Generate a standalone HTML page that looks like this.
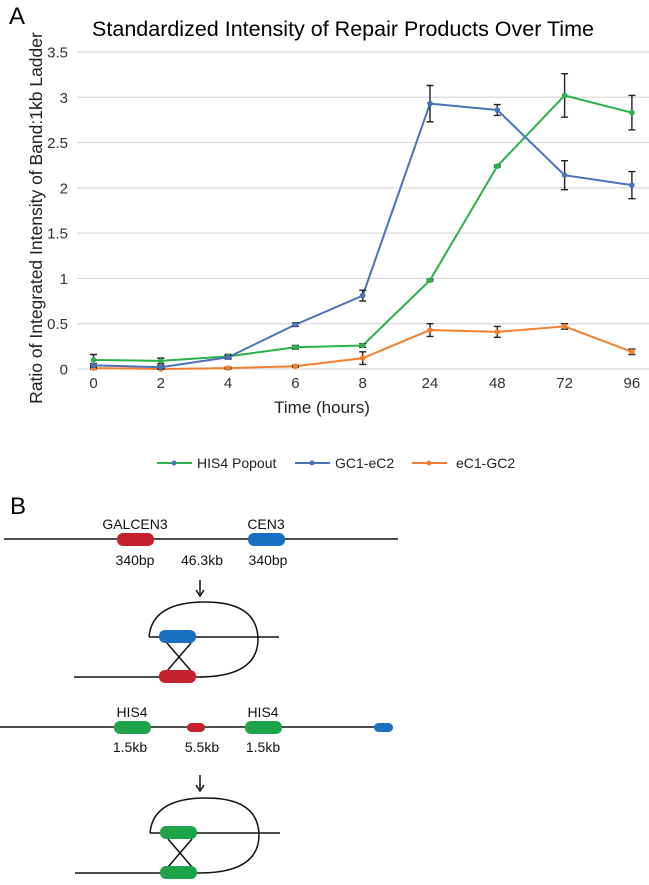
<!DOCTYPE html>
<html><head><meta charset="utf-8"><style>
body{margin:0;background:#fff;}
svg text{font-family:"Liberation Sans",Arial,sans-serif;}
</style></head><body>
<svg width="649" height="880" viewBox="0 0 649 880" xmlns="http://www.w3.org/2000/svg">
<text x="9" y="24" font-size="24" fill="#000">A</text>
<text x="343" y="36" font-size="21.5" text-anchor="middle" fill="#000">Standardized Intensity of Repair Products Over Time</text>
<g id="grid"></g>
<g id="yticks"></g>
<g id="xticks"></g>
<g id="series"></g>
<text transform="translate(42,218) rotate(-90)" font-size="17.5" text-anchor="middle" fill="#222">Ratio of Integrated Intensity of Band:1kb Ladder</text>
<text x="322" y="413" font-size="17" text-anchor="middle" fill="#222">Time (hours)</text>
<g>
 <g><line x1="157" y1="463" x2="192" y2="463" stroke="#2bb04a" stroke-width="2"/><circle cx="174" cy="463" r="2.5" fill="#4a72b8"/><text x="197" y="468" font-size="14" fill="#222">HIS4 Popout</text></g>
 <g><line x1="295" y1="463" x2="330" y2="463" stroke="#4a72b8" stroke-width="2"/><circle cx="312" cy="463" r="2.5" fill="#4a72b8"/><text x="335" y="468" font-size="14" fill="#222">GC1-eC2</text></g>
 <g><line x1="412" y1="463" x2="447" y2="463" stroke="#f08030" stroke-width="2"/><circle cx="429" cy="463" r="2.5" fill="#f08030"/><text x="456" y="468" font-size="14" fill="#222">eC1-GC2</text></g>
</g>

<text x="10" y="514" font-size="24" fill="#000">B</text>
<g font-size="14" text-anchor="middle" fill="#111">
 <line x1="4" y1="539" x2="398" y2="539" stroke="#111" stroke-width="1.5"/>
 <rect x="117" y="533" width="37" height="13" rx="6" fill="#c4202e"/>
 <rect x="248" y="533" width="37" height="13" rx="6" fill="#1b6fc2"/>
 <text x="135" y="529">GALCEN3</text><text x="266" y="529">CEN3</text>
 <text x="135" y="565">340bp</text><text x="202" y="565">46.3kb</text><text x="268" y="565">340bp</text>
 <line x1="200" y1="580" x2="200" y2="594" stroke="#111" stroke-width="1.5"/><path d="M196,590 L200,596 L204,590" fill="none" stroke="#111" stroke-width="1.5"/>
 <path d="M149,637 Q152,602 205,602 Q258,602 258,640 Q257,677 198,677" fill="none" stroke="#111" stroke-width="1.5"/>
 <line x1="149" y1="637" x2="279" y2="637" stroke="#111" stroke-width="1.5"/>
 <line x1="74" y1="677" x2="198" y2="677" stroke="#111" stroke-width="1.5"/>
 <line x1="167" y1="643" x2="191" y2="671" stroke="#111" stroke-width="1.5"/><line x1="191" y1="643" x2="167" y2="671" stroke="#111" stroke-width="1.5"/>
 <rect x="159" y="630" width="37" height="13" rx="6" fill="#1b6fc2"/>
 <rect x="159" y="670" width="37" height="13" rx="6" fill="#c4202e"/>
</g>
<g font-size="14" text-anchor="middle" fill="#111">
 <line x1="0" y1="727" x2="393" y2="727" stroke="#111" stroke-width="1.5"/>
 <rect x="114" y="721" width="37" height="13" rx="6" fill="#1fa34a"/>
 <rect x="245" y="721" width="37" height="13" rx="6" fill="#1fa34a"/>
 <rect x="187" y="723" width="18" height="9" rx="4.5" fill="#c4202e"/>
 <rect x="374" y="723" width="19" height="9" rx="4.5" fill="#1b6fc2"/>
 <text x="132" y="717">HIS4</text><text x="263" y="717">HIS4</text>
 <text x="130" y="752">1.5kb</text><text x="202" y="752">5.5kb</text><text x="263" y="752">1.5kb</text>
 <line x1="200" y1="775" x2="200" y2="789" stroke="#111" stroke-width="1.5"/><path d="M196,785 L200,791 L204,785" fill="none" stroke="#111" stroke-width="1.5"/>
 <path d="M150,833 Q153,798 206,798 Q259,798 259,836 Q258,873 199,873" fill="none" stroke="#111" stroke-width="1.5"/>
 <line x1="150" y1="833" x2="280" y2="833" stroke="#111" stroke-width="1.5"/>
 <line x1="75" y1="873" x2="199" y2="873" stroke="#111" stroke-width="1.5"/>
 <line x1="168" y1="839" x2="192" y2="867" stroke="#111" stroke-width="1.5"/><line x1="192" y1="839" x2="168" y2="867" stroke="#111" stroke-width="1.5"/>
 <rect x="160" y="826" width="37" height="13" rx="6" fill="#1fa34a"/>
 <rect x="160" y="866" width="37" height="13" rx="6" fill="#1fa34a"/>
</g>
</svg>
<script>
const categories=["0","2","4","6","8","24","48","72","96"];
const yTicks=[0,0.5,1,1.5,2,2.5,3,3.5];
const yTickLabels=["0","0.5","1","1.5","2","2.5","3","3.5"];
const his4Values=[0.10,0.09,0.14,0.24,0.26,0.98,2.24,3.02,2.83];
const his4Errors=[0.06,0.03,0.02,0.02,0.02,0.01,0.01,0.24,0.19];
const gc1Values=[0.04,0.02,0.13,0.49,0.81,2.93,2.86,2.14,2.03];
const gc1Errors=[0.02,0.02,0.02,0.02,0.06,0.20,0.06,0.16,0.15];
const ec1Values=[0.01,0.00,0.01,0.03,0.12,0.43,0.41,0.47,0.19];
const ec1Errors=[0.02,0.01,0.01,0.01,0.07,0.07,0.06,0.03,0.03];
const NS="http://www.w3.org/2000/svg";
function xScale(i){return 93.5+i*67.3;}
function yScale(v){return 369-v*(317/3.5);}
function mk(tag,attrs,parent){const e=document.createElementNS(NS,tag);for(const k in attrs)e.setAttribute(k,attrs[k]);parent.appendChild(e);return e;}
const grid=document.getElementById('grid'),yt=document.getElementById('yticks'),xt=document.getElementById('xticks'),ser=document.getElementById('series');
yTicks.forEach((v,i)=>{
 const l=mk('line',{x1:77,x2:649,y1:yScale(v),y2:yScale(v),stroke:'#d9d9d9','stroke-width':1.2},grid);
 
 
 const t=mk('text',{x:68,y:yScale(v)+5.5,'font-size':15,'text-anchor':'end',fill:'#333'},yt);
 t.textContent=yTickLabels[i];
 
 
});
categories.forEach((c,i)=>{
 const t=mk('text',{x:xScale(i),y:388,'font-size':15,'text-anchor':'middle',fill:'#333'},xt);
 t.textContent=c;
 
 
});
function drawSeries(vals,errs,color,name){
 const g=mk('g',{},ser);
 
 
 const pts=vals.map((v,i)=>xScale(i)+','+yScale(v)).join(' ');
 const pl=mk('polyline',{points:pts,fill:'none',stroke:color,'stroke-width':2},g);
 
 
 vals.forEach((v,i)=>{
  const x=xScale(i),y1=yScale(v+errs[i]),y2=yScale(Math.max(0,v-errs[i]));
  const eb=mk('path',{d:`M${x},${y1}V${y2}M${x-3.5},${y1}H${x+3.5}M${x-3.5},${y2}H${x+3.5}`,stroke:'#222','stroke-width':1.4,fill:'none'},g);
  
  
  const c=mk('circle',{cx:x,cy:yScale(v),r:2.8,fill:color},g);
  
  
 });
}
drawSeries(ec1Values,ec1Errors,'#f08030','ec1-gc2-series');
drawSeries(his4Values,his4Errors,'#2bb04a','his4-popout-series');
drawSeries(gc1Values,gc1Errors,'#4a72b8','gc1-ec2-series');
</script>
</body></html>
